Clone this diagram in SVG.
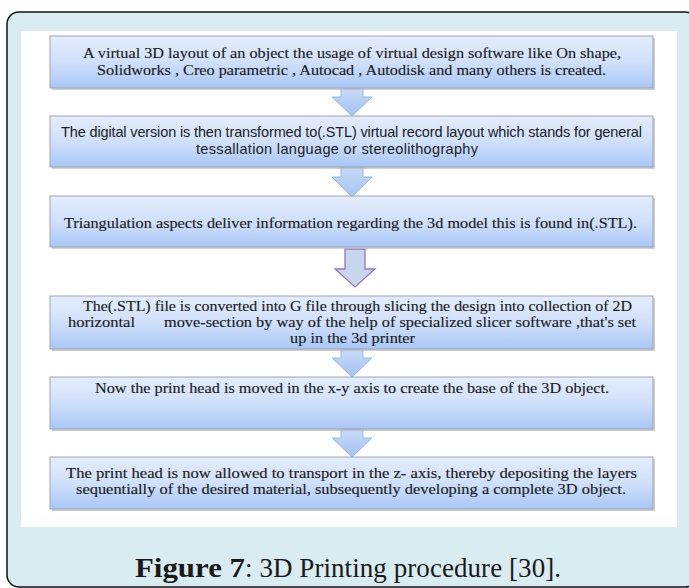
<svg xmlns="http://www.w3.org/2000/svg" width="689" height="588" viewBox="0 0 689 588">
<style>
.frame{fill:#d8ecf1;stroke:#111;stroke-width:1.5}
.panel{fill:#fff}
.box{fill:url(#boxg);stroke:#9ea4ae;stroke-width:1}
.shadow{fill:#b8bcc4;opacity:.7}
.arrow{fill:url(#arrg);stroke:#9bb6e0;stroke-width:1}
.arrowp{fill:#c7d6ec;stroke:#9a72c2;stroke-width:1.3}
.t{font-family:"Liberation Serif","Times New Roman",serif;font-size:14.5px;fill:#1c1c1c;stroke:#1c1c1c;stroke-width:0.15}
.s{font-family:"Liberation Sans",Arial,sans-serif;font-size:14.5px;fill:#1c1c1c}
.cap{font-family:"Liberation Serif","Times New Roman",serif;font-size:27px;fill:#1a1a1a}
</style>
<defs>
<linearGradient id="boxg" x1="0" y1="0" x2="0" y2="1">
<stop offset="0" stop-color="#e4ecfc"/>
<stop offset="0.5" stop-color="#d0e0fb"/>
<stop offset="1" stop-color="#a9c6f6"/>
</linearGradient>
<linearGradient id="arrg" x1="0" y1="0" x2="0" y2="1">
<stop offset="0" stop-color="#c9dbf7"/>
<stop offset="1" stop-color="#a4c2f2"/>
</linearGradient>
</defs>
<rect class="frame" x="7" y="12" width="690" height="575" rx="12"/>
<rect class="panel" x="21" y="31" width="656" height="496"/>
<g id="connectors">
<path class="arrow" d="M341,88 H363 V97 H372 L352,116 L332,97 H341 Z"/>
<path class="arrow" d="M341,167 H363 V177 H372 L352,197 L332,177 H341 Z"/>
<path class="arrowp" d="M345,249 H365 V269 H375 L355,287 L335,269 H345 Z"/>
<path class="arrow" d="M341,349 H363 V358 H372 L352,377 L332,358 H341 Z"/>
<path class="arrow" d="M341,429 H363 V438 H372 L352,457 L332,438 H341 Z"/>
</g>
<g id="node1">
<rect class="shadow" x="52" y="38" width="603" height="52"/>
<rect class="box" x="50" y="36" width="603" height="52"/>
<text class="t" x="83" y="58" textLength="538" lengthAdjust="spacingAndGlyphs">A virtual 3D layout of an object the usage of virtual design software like On shape,</text>
<text class="t" x="97" y="75" textLength="509" lengthAdjust="spacingAndGlyphs">Solidworks , Creo parametric , Autocad , Autodisk and many others is created.</text>
</g>
<g id="node2">
<rect class="shadow" x="52" y="118" width="603" height="51"/>
<rect class="box" x="50" y="116" width="603" height="51"/>
<text class="s" x="61" y="137" textLength="581">The digital version  is then transformed to(.STL) virtual record layout which stands for general</text>
<text class="s" x="196" y="154" textLength="282">tessallation  language or stereolithography</text>
</g>
<g id="node3">
<rect class="shadow" x="52" y="198" width="603" height="51"/>
<rect class="box" x="50" y="196" width="603" height="51"/>
<text class="t" x="64" y="228" textLength="573" lengthAdjust="spacingAndGlyphs">Triangulation aspects deliver information regarding the 3d model this is found in(.STL).</text>
</g>
<g id="node4">
<rect class="shadow" x="52" y="298" width="603" height="53"/>
<rect class="box" x="50" y="296" width="603" height="53"/>
<text class="t" x="83" y="311" textLength="549" lengthAdjust="spacingAndGlyphs">The(.STL) file is converted into G file through slicing the design into collection of 2D</text>
<text class="t" x="68" y="327" textLength="67" lengthAdjust="spacingAndGlyphs">horizontal</text>
<text class="t" x="164" y="327" textLength="472" lengthAdjust="spacingAndGlyphs">move-section by way of the help of specialized slicer software ,that's set</text>
<text class="t" x="290" y="343" textLength="125" lengthAdjust="spacingAndGlyphs">up in the 3d printer</text>
</g>
<g id="node5">
<rect class="shadow" x="52" y="379" width="603" height="52"/>
<rect class="box" x="50" y="377" width="603" height="52"/>
<text class="t" x="95" y="393" textLength="514" lengthAdjust="spacingAndGlyphs">Now the print head is moved in the x-y axis to create the base of the 3D object.</text>
</g>
<g id="node6">
<rect class="shadow" x="52" y="459" width="603" height="52"/>
<rect class="box" x="50" y="457" width="603" height="52"/>
<text class="t" x="66" y="478" textLength="571" lengthAdjust="spacingAndGlyphs">The print head is now allowed to transport in the z- axis, thereby depositing  the layers</text>
<text class="t" x="76" y="494" textLength="550" lengthAdjust="spacingAndGlyphs">sequentially of the desired material, subsequently developing a complete 3D object.</text>
</g>
<g id="caption">
<text class="cap" x="135" y="577" font-weight="bold" textLength="110" lengthAdjust="spacingAndGlyphs">Figure 7</text>
<text class="cap" x="245" y="577" textLength="316">: 3D Printing procedure [30].</text>
</g>
</svg>
